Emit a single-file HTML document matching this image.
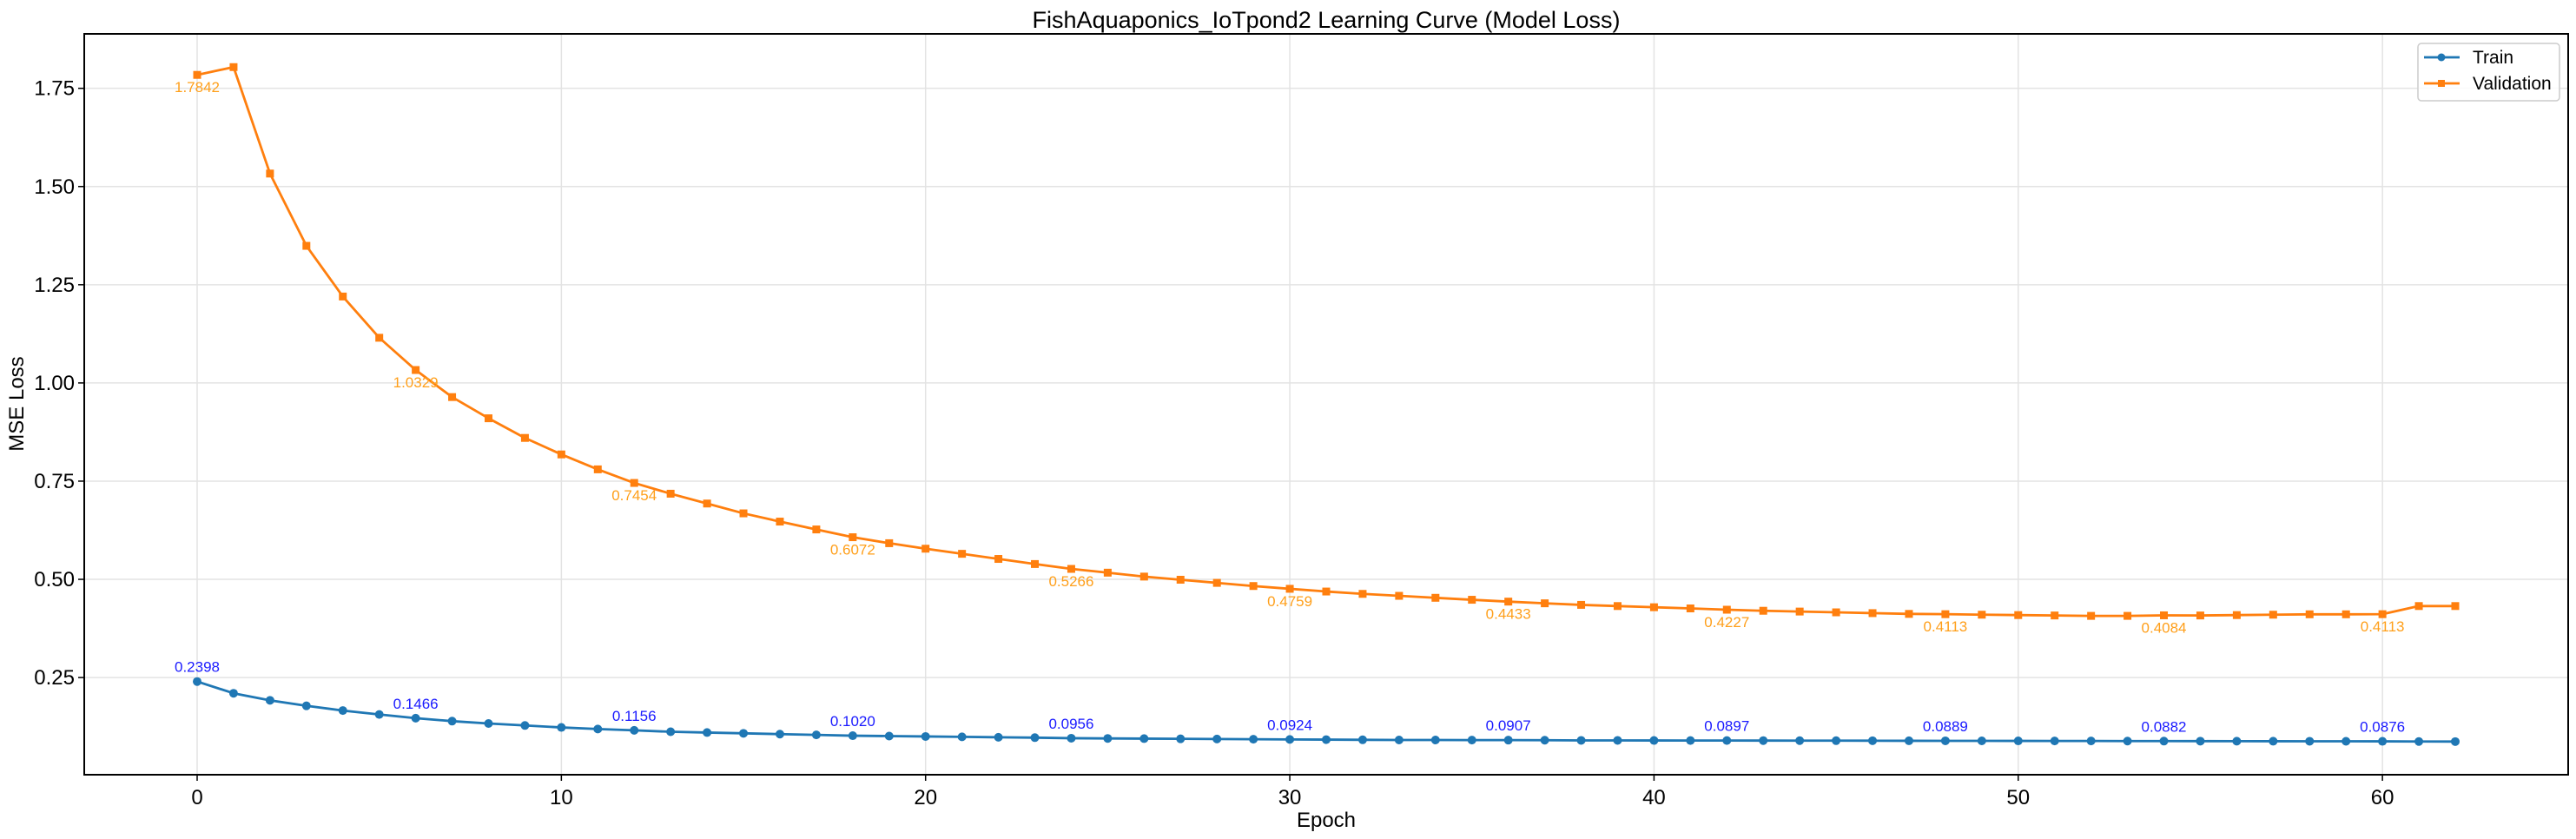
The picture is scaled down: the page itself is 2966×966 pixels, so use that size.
<!DOCTYPE html>
<html><head><meta charset="utf-8">
<style>
html,body{margin:0;padding:0;background:#fff;}
svg{display:block;font-family:"Liberation Sans",sans-serif;}
</style></head>
<body>
<svg id="chart" width="2966" height="966" viewBox="0 0 2966 966">
<rect x="0" y="0" width="2966" height="966" fill="#fff"/>
<text x="1527" y="32" text-anchor="middle" font-size="27" fill="#000">FishAquaponics_IoTpond2 Learning Curve (Model Loss)</text>
<g id="grid"></g>
<g id="series"></g>
<rect x="97" y="39" width="2860" height="853" fill="none" stroke="#000" stroke-width="2"/>
<g id="axes"></g>
<text x="1527" y="952" text-anchor="middle" font-size="24" fill="#000">Epoch</text>
<text transform="translate(27,465) rotate(-90)" text-anchor="middle" font-size="24" fill="#000">MSE Loss</text>
<g>
<rect x="2784" y="50" width="163" height="66" rx="4" fill="#fff" fill-opacity="0.85" stroke="#ccc" stroke-width="1.5"/>
<g>
<line x1="2791" y1="66" x2="2832" y2="66" stroke="#1f77b4" stroke-width="2.8"/>
<circle cx="2811" cy="66" r="4.5" fill="#1f77b4"/>
<text x="2847" y="73" font-size="21" fill="#000">Train</text>
</g>
<g>
<line x1="2791" y1="96" x2="2832" y2="96" stroke="#ff7f0e" stroke-width="2.8"/>
<rect x="2807" y="92" width="8" height="8" fill="#ff7f0e"/>
<text x="2847" y="103" font-size="21" fill="#000">Validation</text>
</g>
</g>
</svg>
<script>
const epochs = Array.from({length:63},(_,i)=>i);
const trainLoss = [0.2398,0.210,0.192,0.178,0.166,0.156,0.1466,0.139,0.133,0.128,0.123,0.119,0.1156,0.112,0.110,0.108,0.106,0.104,0.1020,0.101,0.100,0.099,0.098,0.097,0.0956,0.095,0.0945,0.094,0.0935,0.093,0.0924,0.092,0.0915,0.091,0.091,0.0908,0.0907,0.0905,0.090,0.090,0.0898,0.0897,0.0897,0.0895,0.0894,0.0893,0.0892,0.089,0.0889,0.0888,0.0887,0.0886,0.0885,0.0883,0.0882,0.0881,0.088,0.0879,0.0878,0.0877,0.0876,0.0872,0.0870];
const valLoss = [1.7842,1.804,1.533,1.349,1.22,1.115,1.0329,0.964,0.91,0.86,0.818,0.78,0.7454,0.718,0.693,0.668,0.647,0.627,0.6072,0.592,0.578,0.565,0.552,0.539,0.5266,0.517,0.507,0.499,0.491,0.483,0.4759,0.469,0.463,0.458,0.453,0.448,0.4433,0.439,0.435,0.432,0.429,0.426,0.4227,0.420,0.418,0.416,0.414,0.412,0.4113,0.410,0.409,0.408,0.407,0.407,0.4084,0.408,0.409,0.410,0.411,0.411,0.4113,0.432,0.432];
const xTicks = [0,10,20,30,40,50,60];
const yTicks = [0.25,0.50,0.75,1.00,1.25,1.50,1.75];
const yTickLabels = ["0.25","0.50","0.75","1.00","1.25","1.50","1.75"];

const NS="http://www.w3.org/2000/svg";
const X0=97,X1=2957,Y0=39,Y1=892;
const xMin=-3.1,xMax=65.1;
const yMin=0.0026,yMax=1.8886;
function xs(v){return X0+(v-xMin)/(xMax-xMin)*(X1-X0);}
function ys(v){return Y1-(v-yMin)/(yMax-yMin)*(Y1-Y0);}
function mk(tag,attrs,parent){const e=document.createElementNS(NS,tag);for(const k in attrs)e.setAttribute(k,attrs[k]);parent.appendChild(e);return e;}
const grid=document.getElementById('grid'),axes=document.getElementById('axes'),series=document.getElementById('series');

xTicks.forEach(t=>{
  const x=xs(t);
  const g=mk('line',{x1:x,y1:Y0,x2:x,y2:Y1,stroke:'#e3e3e3','stroke-width':1.5},grid);
  
  
  const tk=mk('line',{x1:x,y1:Y1,x2:x,y2:Y1+7,stroke:'#000','stroke-width':1.5},axes);
  
  
  const tx=mk('text',{x:x,y:Y1+34,'text-anchor':'middle','font-size':24,fill:'#000'},axes);
  tx.textContent=String(t);
  
  
});
yTicks.forEach((t,i)=>{
  const y=ys(t);
  const g=mk('line',{x1:X0,y1:y,x2:X1,y2:y,stroke:'#e3e3e3','stroke-width':1.5},grid);
  
  
  const tk=mk('line',{x1:X0-7,y1:y,x2:X0,y2:y,stroke:'#000','stroke-width':1.5},axes);
  
  
  const tx=mk('text',{x:X0-11,y:y+8,'text-anchor':'end','font-size':24,fill:'#000'},axes);
  tx.textContent=yTickLabels[i];
  
  
});

function drawSeries(vals,color,name,square,labelColor,labelDy){
  const g=mk('g',{},series);
  
  
  const pts=vals.map((v,i)=>xs(epochs[i])+','+ys(v)).join(' ');
  const pl=mk('polyline',{points:pts,fill:'none',stroke:color,'stroke-width':2.8,'stroke-linejoin':'round'},g);
  
  
  vals.forEach((v,i)=>{
    const x=xs(epochs[i]),y=ys(v);
    let m;
    if(square){m=mk('rect',{x:x-4.5,y:y-4.5,width:9,height:9,fill:color},g);}
    else{m=mk('circle',{cx:x,cy:y,r:5,fill:color},g);}
    
    
    if(i%6===0){
      const t=mk('text',{x:x,y:y+labelDy,'text-anchor':'middle','font-size':17,fill:labelColor},g);
      t.textContent=v.toFixed(4);
      
      
    }
  });
}
drawSeries(trainLoss,'#1f77b4','train',false,'#1a1aff',-11);
drawSeries(valLoss,'#ff7f0e','validation',true,'#ff9f1a',20);
</script>
</body></html>
